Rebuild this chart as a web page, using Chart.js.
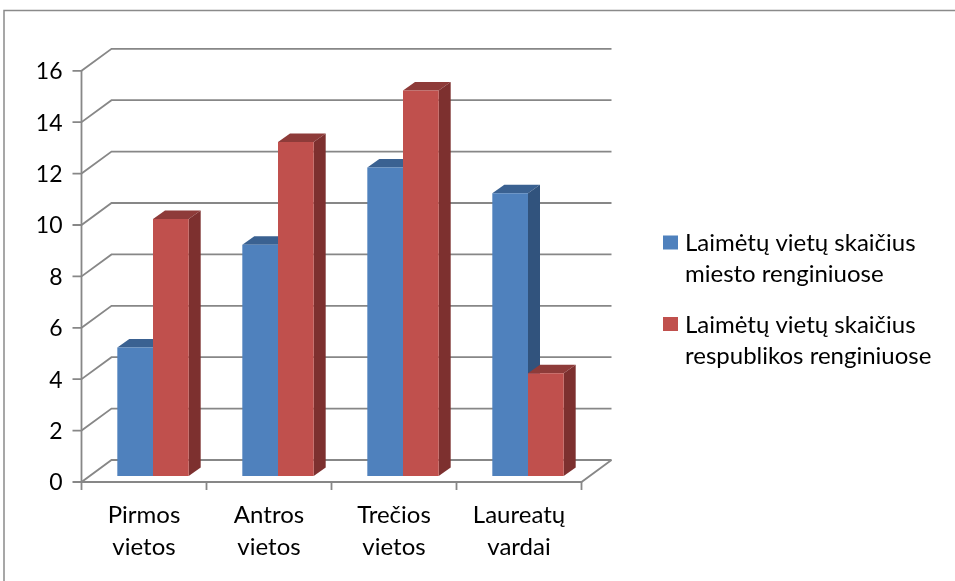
<!DOCTYPE html>
<html>
<head>
<meta charset="utf-8">
<script src="https://cdn.jsdelivr.net/npm/chart.js@4.4.1/dist/chart.umd.min.js"></script>
<style>
  html, body { margin: 0; padding: 0; background: #fff; }
  canvas { display: block; }
</style>
</head>
<body>
<canvas id="myChart" width="955" height="581"></canvas>
<script>
var categories = [['Pirmos', 'vietos'], ['Antros', 'vietos'], ['Trečios', 'vietos'], ['Laureatų', 'vardai']];
var cityPlaces = [5, 9, 12, 11];
var republicPlaces = [10, 13, 15, 4];
var seriesNames = [['Laimėtų vietų skaičius', 'miesto renginiuose'], ['Laimėtų vietų skaičius', 'respublikos renginiuose']];
var yMin = 0, yMax = 16, yStep = 2;

var FONT = 'Lato';
var GRID = '#878787';
// 3d offsets, measured from the plane the bars stand in
var FRONT = {x: -9, y: 6};
var BACK = {x: 21, y: -16};
var DEPTH = {x: 12, y: 8.5};

var faces = [
  {front: '#4f81bd', top: '#3a6191', side: '#31537d'},
  {front: '#c0504d', top: '#8e3b39', side: '#7d302f'}
];

function line(ctx, pts) {
  ctx.beginPath();
  ctx.moveTo(pts[0][0], pts[0][1]);
  for (var i = 1; i < pts.length; i++) ctx.lineTo(pts[i][0], pts[i][1]);
  ctx.stroke();
}

function poly(ctx, pts, color) {
  ctx.beginPath();
  ctx.moveTo(pts[0][0], pts[0][1]);
  for (var i = 1; i < pts.length; i++) ctx.lineTo(pts[i][0], pts[i][1]);
  ctx.closePath();
  ctx.fillStyle = color;
  ctx.fill();
}

var box3d = {
  id: 'box3d',
  beforeDraw: function(chart) {
    var ctx = chart.ctx;
    ctx.save();
    ctx.strokeStyle = '#8a8a8a';
    ctx.lineWidth = 1.5;
    line(ctx, [[4, chart.height], [4, 10.5], [chart.width, 10.5]]);
    ctx.restore();
  },
  beforeDatasetsDraw: function(chart) {
    var ctx = chart.ctx, a = chart.chartArea;
    var xs = chart.scales.x, ys = chart.scales.y;
    var fl = a.left + FRONT.x, fr = a.right + FRONT.x;
    var bl = a.left + BACK.x, br = a.right + BACK.x;
    var y0 = ys.getPixelForValue(yMin);
    ctx.save();
    ctx.strokeStyle = GRID;
    ctx.lineWidth = 1.8;
    ys.ticks.forEach(function(t) {
      var y = ys.getPixelForValue(t.value);
      line(ctx, [[fl - 9, y + FRONT.y], [fl, y + FRONT.y], [bl, y + BACK.y], [br, y + BACK.y]]);
    });
    // floor edges and the front axis
    line(ctx, [[fl, y0 + FRONT.y], [fr, y0 + FRONT.y], [br, y0 + BACK.y]]);
    line(ctx, [[fl, ys.getPixelForValue(yMax) + FRONT.y], [fl, y0 + FRONT.y]]);
    for (var i = 0; i <= categories.length; i++) {
      var x = xs.getPixelForValue(i - 0.5) + FRONT.x;
      line(ctx, [[x, y0 + FRONT.y], [x, y0 + FRONT.y + 8]]);
    }
    // tops and sides go under the front faces chart.js draws next,
    // so a taller neighbour hides the part of a side it stands in front of
    chart.data.datasets.forEach(function(ds, k) {
      var c = faces[k];
      chart.getDatasetMeta(k).data.forEach(function(bar) {
        var p = bar.getProps(['x', 'y', 'base', 'width'], true);
        var l = p.x - p.width / 2, r = p.x + p.width / 2, t = p.y, b = p.base;
        poly(ctx, [[l, t], [l + DEPTH.x, t - DEPTH.y], [r + DEPTH.x, t - DEPTH.y], [r, t]], c.top);
        poly(ctx, [[r, t], [r + DEPTH.x, t - DEPTH.y], [r + DEPTH.x, b - DEPTH.y], [r, b]], c.side);
      });
    });
    ctx.restore();
  },
  afterDraw: function(chart) {
    var ctx = chart.ctx;
    ctx.save();
    ctx.font = '24px ' + FONT;
    ctx.textBaseline = 'alphabetic';
    ctx.textAlign = 'left';
    seriesNames.forEach(function(lines, i) {
      var y = 251 + i * 81.5;
      ctx.fillStyle = faces[i].front;
      ctx.fillRect(663, y - 15.5, 15, 14);
      ctx.fillStyle = '#000';
      lines.forEach(function(txt, j) {
        ctx.fillText(txt, 685, y + j * 31);
      });
    });
    ctx.restore();
  }
};

var placesChart;

function drawChart() {
  var ctx = document.getElementById('myChart');
  placesChart = new Chart(ctx, {
    type: 'bar',
    data: {
      labels: categories,
      datasets: [{
        label: seriesNames[0].join(' '),
        data: cityPlaces,
        backgroundColor: faces[0].front
      }, {
        label: seriesNames[1].join(' '),
        data: republicPlaces,
        backgroundColor: faces[1].front
      }]
    },
    options: {
      responsive: false,
      animation: false,
      events: [],
      layout: { padding: { top: 64.8, right: 364.5, bottom: 0, left: 0 } },
      datasets: { bar: { categoryPercentage: 0.571, barPercentage: 1, borderWidth: 0 } },
      plugins: { legend: { display: false }, tooltip: { enabled: false } },
      scales: {
        x: {
          grid: { display: false, drawTicks: false },
          border: { display: false },
          ticks: {
            color: '#000',
            font: { family: FONT, size: 24, lineHeight: 1.333 },
            padding: 23,
            labelOffset: FRONT.x,
            maxRotation: 0,
            autoSkip: false
          },
          afterFit: function(scale) { scale.height = 105; }
        },
        y: {
          min: yMin,
          max: yMax,
          grid: { display: false, drawTicks: false },
          border: { display: false },
          ticks: {
            stepSize: yStep,
            color: '#000',
            font: { family: FONT, size: 23 },
            padding: 28,
            labelOffset: 7
          },
          afterFit: function(scale) { scale.width = 90.5; }
        }
      }
    },
    plugins: [box3d]
  });
}

window.onload = function() {
  drawChart();
};
</script>
</body>
</html>
